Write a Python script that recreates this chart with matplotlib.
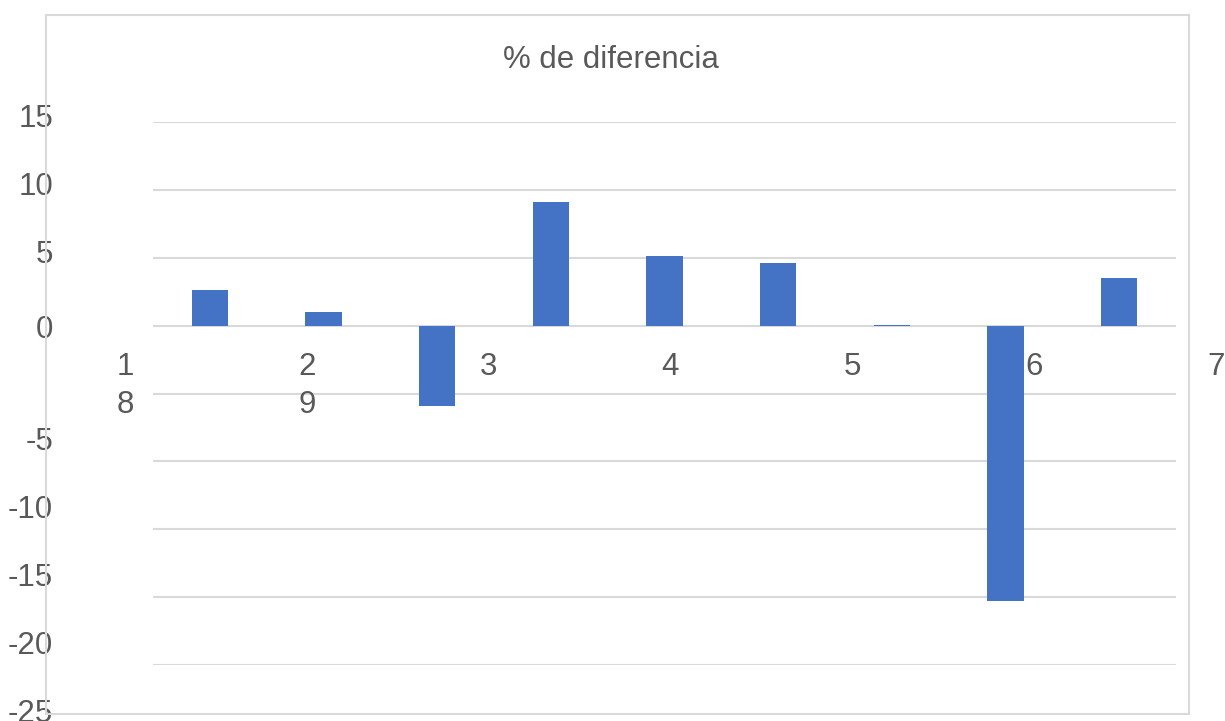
import numpy as np
import matplotlib
matplotlib.use("Agg")
from matplotlib import pyplot as plt
from matplotlib import transforms
from matplotlib.patches import Rectangle

# data
categories = ["1", "2", "3", "4", "5", "6", "7", "8", "9"]
diff_pct = [2.6, 1.0, -5.9, 9.1, 5.1, 4.6, 0.03, -20.3, 3.5]
y_ticks = [15, 10, 5, 0, -5, -10, -15, -20, -25]
axis_labels_top = ["1", "2", "3", "4", "5", "6", "7"]
axis_labels_bottom = ["8", "9"]
title = "% de diferencia"

W, H = 1225, 721
TEXT = "#595959"
GRID = "#d9d9d9"
FS = 22.5
plt.rcParams["font.family"] = ["Liberation Sans", "DejaVu Sans"]

fig = plt.figure(figsize=(W / 100, H / 100), dpi=100)


def fx(px):
    return px / W


def fy(py):
    return 1 - py / H


# chart frame
fig.add_artist(Rectangle((fx(46), fy(714)), fx(1189) - fx(46), fy(15) - fy(714),
                         transform=fig.transFigure, fill=False, ec=GRID, lw=1.5))

ax = fig.add_axes([fx(153), fy(665), fx(1176) - fx(153), fy(122) - fy(665)])
x = np.arange(len(categories))
ax.bar(x, diff_pct, width=0.32, color="#4472C4", zorder=2)
ax.set_xlim(-0.5, len(categories) - 0.5)
ax.set_ylim(-25, 15)
ax.set_yticks(y_ticks)
ax.set_yticklabels([])
ax.set_xticks([])
ax.tick_params(left=False, bottom=False)
ax.grid(axis="y", color=GRID, lw=1.5, zorder=0)
for s in ax.spines.values():
    s.set_visible(False)

# value labels, drawn displaced like in the original
base = transforms.blended_transform_factory(fig.transFigure, ax.transData)
for v in y_ticks:
    if v > 0:
        off = 5
    elif v == 0:
        off = 12
    else:
        off = 57
    tr = transforms.offset_copy(base, fig=fig, x=0, y=-off, units="dots")
    ax.text(fx(53), v, str(v), transform=tr, ha="right", va="baseline",
            fontsize=FS, color=TEXT, clip_on=False)

# category labels (wrapped across two rows)
for i, lab in enumerate(axis_labels_top):
    fig.text(fx(125 + 181.8 * i), fy(375), lab, ha="center", va="baseline",
             fontsize=FS, color=TEXT)
for i, lab in enumerate(axis_labels_bottom):
    fig.text(fx(125 + 181.8 * i), fy(413), lab, ha="center", va="baseline",
             fontsize=FS, color=TEXT)

fig.text(fx(611), fy(68), title, ha="center", va="baseline", fontsize=FS, color=TEXT)

fig.savefig("out.png", dpi=100)
